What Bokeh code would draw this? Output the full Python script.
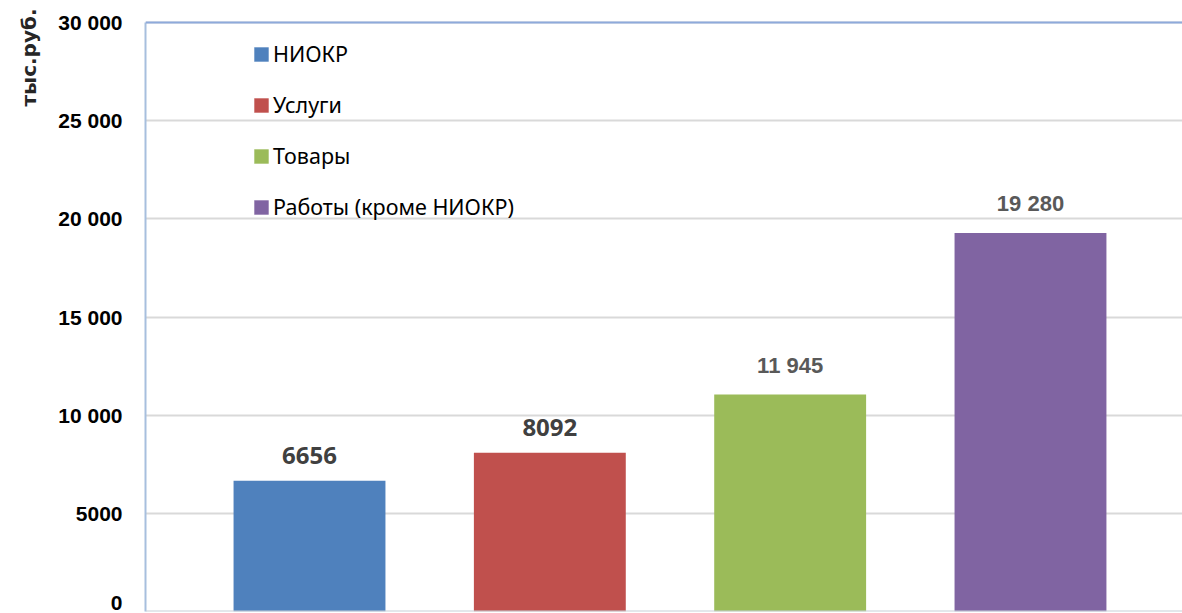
from bokeh.plotting import figure
from bokeh.models import (ColumnDataSource, Range1d, Span, Legend, LegendItem,
                          FixedTicker, CDSView, IndexFilter, Title)
from bokeh.embed import file_html
from bokeh.resources import INLINE
from bokeh.core.properties import value

# ---- data ----
categories = ["НИОКР", "Услуги", "Товары", "Работы (кроме НИОКР)"]
bar_values = [6656, 8092, 11050, 19280]          # bar heights as drawn
value_labels = ["6656", "8092", "11 945", "19 280"]  # printed data labels
colors = ["#4f81bd", "#c0504d", "#9bbb59", "#8064a2"]
y_ticks = [0, 5000, 10000, 15000, 20000, 25000, 30000]
y_tick_labels = ["0", "5000", "10 000", "15 000", "20 000", "25 000", "30 000"]
y_axis_title = "тыс.руб."

positions = [i + 1 for i in range(len(categories))]
source = ColumnDataSource(dict(x=positions, top=bar_values, label=value_labels,
                               color=colors, cat=categories))

y_max = y_ticks[-1]
p = figure(width=1182, height=613, output_backend="svg", toolbar_location=None,
           x_range=Range1d(0.3176, 4.6325), y_range=Range1d(0, y_max * 1.0204),
           min_border_left=145, min_border_right=0, min_border_top=10, min_border_bottom=2)
p.outline_line_color = None
p.background_fill_color = "white"
p.border_fill_color = "white"

# grid
p.xgrid.visible = False
p.ygrid.ticker = FixedTicker(ticks=y_ticks)
p.ygrid.grid_line_color = "#d9d9d9"
p.ygrid.grid_line_width = 2

# axes
p.xaxis.visible = False
ya = p.yaxis[0]
ya.ticker = FixedTicker(ticks=y_ticks)
ya.bounds = (0, y_max)
ya.major_label_overrides = {t: s for t, s in zip(y_ticks, y_tick_labels)}
ya.major_label_text_font = "Liberation Sans"
ya.major_label_text_font_style = "bold"
ya.major_label_text_font_size = "21px"
ya.major_label_text_color = "#000000"
ya.major_label_standoff = 23
ya.major_tick_out = 0
ya.major_tick_in = 0
ya.major_tick_line_color = None
ya.minor_tick_line_color = None
ya.axis_line_color = "#a7bfde"
ya.axis_line_width = 2

# axis title as a left-side title, aligned to the top
p.add_layout(Title(text=y_axis_title, align="right", offset=-2, standoff=29,
                   text_font="DejaVu Sans", text_font_style="bold", text_font_size="20px",
                   text_color="#262626"), "left")

# bars
r = p.vbar(x="x", top="top", width=0.632, color="color", line_color=None, source=source)

# frame lines
p.add_layout(Span(location=y_max, dimension="width", line_color="#8eaadb", line_width=2))
p.add_layout(Span(location=0, dimension="width", line_color="#c8cfd8", line_width=2))

# data labels
v1 = CDSView(filter=IndexFilter([0, 1]))
v2 = CDSView(filter=IndexFilter([2, 3]))
p.text(x="x", y="top", text="label", source=source, view=v1,
       text_font=value("Open Sans"), text_font_style="bold", text_font_size="24px",
       text_color="#404040", text_align="center", text_baseline="alphabetic", y_offset=-25)
p.text(x="x", y="top", text="label", source=source, view=v2,
       text_font=value("Liberation Sans"), text_font_style="bold", text_font_size="22px",
       text_color="#595959", text_align="center", text_baseline="alphabetic", y_offset=-29)

# legend
items = [LegendItem(label=c, renderers=[r], index=i) for i, c in enumerate(categories)]
legend = Legend(items=items, location=(107, 390), orientation="vertical",
                glyph_width=18, glyph_height=18, label_standoff=3, spacing=22,
                padding=0, margin=0, border_line_color=None, background_fill_alpha=0,
                label_text_font="Noto Sans", label_text_font_size="21.5px",
                label_text_color="#000000", label_height=18)
p.add_layout(legend)

open("out.html", "w").write(file_html(p, INLINE))
